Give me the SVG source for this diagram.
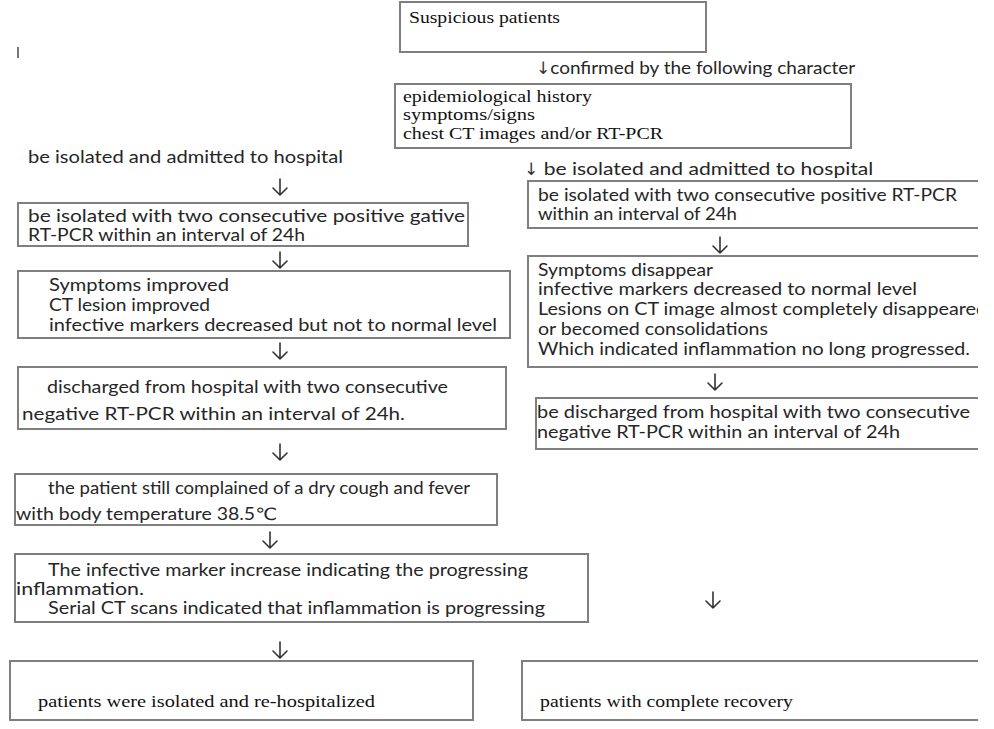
<svg xmlns="http://www.w3.org/2000/svg" width="994" height="729" viewBox="0 0 994 729">
<style>
.box{fill:none;stroke:#7f7f7f;stroke-width:2}
.s{font-family:Lato,"Liberation Sans","DejaVu Sans",sans-serif;font-size:17px;fill:#262626}
.r{font-family:"Liberation Serif",serif;font-size:16px;fill:#111}
.rb{font-family:"Liberation Serif",serif;font-size:17px;fill:#111}
.ai{font-family:"DejaVu Sans",sans-serif;fill:#333}
.arr{fill:none;stroke:#333;stroke-width:1.6;stroke-linecap:round;stroke-linejoin:round}
</style>
<defs>
<clipPath id="page"><rect x="0" y="0" width="978" height="729"/></clipPath>
<path id="dn" d="M0,0V16M-7,9L0,16L7,9"/>
</defs>
<rect width="994" height="729" fill="#fff"/>
<line x1="18" y1="47" x2="18" y2="58" stroke="#777" stroke-width="2"/>

<g id="n1">
<rect class="box" x="400" y="2" width="306" height="50"/>
<text class="r" x="409" y="23" textLength="151" lengthAdjust="spacingAndGlyphs">Suspicious patients</text>
</g>
<g id="n2">
<rect class="box" x="395" y="84" width="456" height="64"/>
<text class="r" x="403" y="102" textLength="189" lengthAdjust="spacingAndGlyphs">epidemiological history</text>
<text class="r" x="403" y="120" textLength="132" lengthAdjust="spacingAndGlyphs">symptoms/signs</text>
<text class="r" x="403" y="139" textLength="260" lengthAdjust="spacingAndGlyphs">chest CT images and/or RT-PCR</text>
</g>
<g id="n3">
<rect class="box" x="18" y="203" width="450" height="43"/>
<text class="s" x="28" y="222" textLength="437" lengthAdjust="spacingAndGlyphs">be isolated with two consecutive positive gative</text>
<text class="s" x="28" y="241" textLength="277" lengthAdjust="spacingAndGlyphs">RT-PCR within an interval of 24h</text>
</g>
<g id="n4">
<rect class="box" x="18" y="271" width="492" height="67"/>
<text class="s" x="49" y="291" textLength="180" lengthAdjust="spacingAndGlyphs">Symptoms  improved</text>
<text class="s" x="49" y="311" textLength="161" lengthAdjust="spacingAndGlyphs">CT lesion improved</text>
<text class="s" x="49" y="331" textLength="448" lengthAdjust="spacingAndGlyphs">infective markers  decreased  but not to normal level</text>
</g>
<g id="n5">
<rect class="box" x="18" y="367" width="488" height="62"/>
<text class="s" x="47" y="393" textLength="401" lengthAdjust="spacingAndGlyphs">discharged from hospital with two consecutive</text>
<text class="s" x="22" y="420" textLength="383" lengthAdjust="spacingAndGlyphs">negative RT-PCR within an interval of 24h.</text>
</g>
<g id="n6">
<rect class="box" x="15" y="474" width="482" height="51"/>
<text class="s" x="48" y="494" textLength="422" lengthAdjust="spacingAndGlyphs">the patient still complained of a dry cough and fever</text>
<text class="s" x="16" y="520" textLength="261" lengthAdjust="spacingAndGlyphs">with body temperature 38.5℃</text>
</g>
<g id="n7">
<rect class="box" x="15" y="554" width="573" height="68"/>
<text class="s" x="48" y="576" textLength="480" lengthAdjust="spacingAndGlyphs">The infective marker increase indicating the progressing</text>
<text class="s" x="16" y="595" textLength="128" lengthAdjust="spacingAndGlyphs">inflammation.</text>
<text class="s" x="48" y="614" textLength="497" lengthAdjust="spacingAndGlyphs">Serial  CT scans indicated that inflammation is progressing</text>
</g>
<g id="n8">
<rect class="box" x="10" y="661" width="463" height="59"/>
<text class="rb" x="38" y="707" textLength="337" lengthAdjust="spacingAndGlyphs">patients were isolated and re-hospitalized</text>
</g>

<g clip-path="url(#page)">
<g id="n9">
<path class="box" d="M985,181H528V228H985"/>
<text class="s" x="538" y="201" textLength="419" lengthAdjust="spacingAndGlyphs">be isolated with two consecutive positive RT-PCR</text>
<text class="s" x="538" y="220" textLength="199" lengthAdjust="spacingAndGlyphs">within an interval of 24h</text>
</g>
<g id="n10">
<path class="box" d="M985,256H528V367H985"/>
<text class="s" x="538" y="276" textLength="175" lengthAdjust="spacingAndGlyphs">Symptoms disappear</text>
<text class="s" x="538" y="295" textLength="379" lengthAdjust="spacingAndGlyphs">infective markers  decreased  to normal level</text>
<text class="s" x="538" y="315" textLength="449" lengthAdjust="spacingAndGlyphs">Lesions on CT image almost completely disappeared</text>
<text class="s" x="538" y="335" textLength="230" lengthAdjust="spacingAndGlyphs">or becomed consolidations</text>
<text class="s" x="538" y="355" textLength="432" lengthAdjust="spacingAndGlyphs">Which indicated inflammation no long progressed.</text>
</g>
<g id="n11">
<path class="box" d="M985,398H536V449H985"/>
<text class="s" x="537" y="418" textLength="433" lengthAdjust="spacingAndGlyphs">be discharged from hospital with two consecutive</text>
<text class="s" x="537" y="438" textLength="363" lengthAdjust="spacingAndGlyphs">negative RT-PCR within an interval of 24h</text>
</g>
<g id="n12">
<path class="box" d="M985,661H522V720H985"/>
<text class="rb" x="540" y="707" textLength="253" lengthAdjust="spacingAndGlyphs">patients with complete recovery</text>
</g>
</g>

<g id="connectors">
<text class="s" x="536" y="74"><tspan class="ai">↓</tspan><tspan textLength="305" lengthAdjust="spacingAndGlyphs">confirmed by the following character</tspan></text>
<text class="s" x="28" y="163" textLength="315" lengthAdjust="spacingAndGlyphs">be isolated  and admitted to hospital</text>
<text class="s" x="524" y="175"><tspan class="ai">↓</tspan><tspan textLength="335" lengthAdjust="spacingAndGlyphs"> be isolated  and admitted to hospital</tspan></text>
<g class="arr">
<use href="#dn" x="280" y="179"/>
<use href="#dn" x="280" y="252"/>
<use href="#dn" x="280" y="343"/>
<use href="#dn" x="280" y="444"/>
<use href="#dn" x="270" y="532"/>
<use href="#dn" x="280" y="642"/>
<use href="#dn" x="720" y="237"/>
<use href="#dn" x="715" y="374"/>
<use href="#dn" x="713" y="592"/>
</g>
</g>
</svg>
